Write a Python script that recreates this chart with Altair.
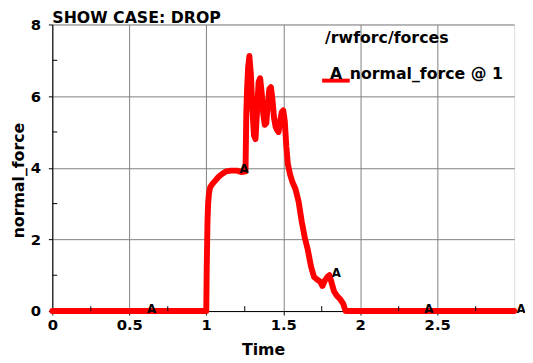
import altair as alt
import pandas as pd

# ---- data ----
time = [0.0, 1.0, 1.003, 1.008, 1.012, 1.018, 1.025, 1.04, 1.06, 1.08, 1.10, 1.13, 1.16,
        1.20, 1.23, 1.255, 1.26, 1.265, 1.272, 1.28, 1.29, 1.30, 1.31, 1.32, 1.33, 1.34,
        1.35, 1.36, 1.37, 1.38, 1.39, 1.40, 1.41, 1.42, 1.43, 1.44, 1.45, 1.46, 1.47,
        1.48, 1.49, 1.50, 1.51, 1.52, 1.53, 1.545, 1.56, 1.58, 1.60, 1.62, 1.64, 1.66,
        1.68, 1.70, 1.72, 1.74, 1.755, 1.77, 1.79, 1.80, 1.81, 1.83, 1.85, 1.87, 1.89,
        1.905, 3.0]
normal_force = [0.0, 0.0, 1.2, 2.5, 3.0, 3.3, 3.45, 3.55, 3.65, 3.75, 3.82, 3.9, 3.92,
                3.92, 3.88, 3.9, 5.5, 6.2, 6.8, 7.12, 6.6, 5.6, 4.9, 4.8, 5.6, 6.4,
                6.5, 6.1, 5.5, 5.2, 5.25, 5.8, 6.2, 6.25, 5.9, 5.4, 5.15, 5.05, 5.0,
                5.3, 5.55, 5.6, 5.3, 4.6, 4.1, 3.8, 3.6, 3.4, 3.05, 2.5, 2.05, 1.7,
                1.25, 0.95, 0.88, 0.82, 0.7, 0.85, 0.97, 1.0, 0.85, 0.55, 0.42, 0.33, 0.2,
                0.0, 0.0]

marker_time = [0.6, 1.2, 1.8, 2.4, 3.0]
marker_force = [0.0, 3.92, 1.0, 0.0, 0.0]

x_major = [0, 0.5, 1, 1.5, 2, 2.5]
x_minor = [0.25, 0.75, 1.25, 1.75, 2.25, 2.75]
y_major = [0, 2, 4, 6, 8]
y_minor = [1, 3, 5, 7]

chart_title = "SHOW CASE: DROP"
legend_title = "/rwforc/forces"
legend_label = "normal_force @ 1"
marker_symbol = "A"

FONT = "DejaVu Sans"
W, H = 469, 291

df = pd.DataFrame({"Time": time, "normal_force": normal_force})
mk = pd.DataFrame({"Time": marker_time, "normal_force": marker_force, "s": marker_symbol})
xmin = pd.DataFrame({"v": x_minor})
ymin = pd.DataFrame({"v": y_minor})

xs = alt.Scale(domain=[0, 3], nice=False, zero=False)
ys = alt.Scale(domain=[0, 8], nice=False)

x_axis = alt.Axis(values=x_major, format="~g", grid=True, gridColor="#808080", gridWidth=1,
                  tickSize=4, tickColor="black", domainColor="black",
                  labelFont=FONT, labelFontSize=15, labelFontWeight="bold", labelColor="black",
                  labelPadding=3, labelFlush=False,
                  title="Time", titleFont=FONT, titleFontSize=16, titleFontWeight="bold",
                  titleColor="black", titleX=214, titleY=44, titleBaseline="alphabetic",
                  titleAnchor="start", titleAlign="center")
y_axis = alt.Axis(values=y_major, format="~g", grid=True, gridColor="#808080", gridWidth=1,
                  tickSize=4, tickColor="black", domainColor="black",
                  labelFont=FONT, labelFontSize=15, labelFontWeight="bold", labelColor="black",
                  labelPadding=8, labelFlush=False,
                  title="normal_force", titleFont=FONT, titleFontSize=16, titleFontWeight="bold",
                  titleColor="black", titleX=-29, titleY=158, titleBaseline="alphabetic",
                  titleAlign="center", titleAngle=270)

line = alt.Chart(df).mark_line(color="#ff0000", strokeWidth=6, strokeJoin="round",
                               strokeCap="round").encode(
    x=alt.X("Time:Q", scale=xs, axis=x_axis),
    y=alt.Y("normal_force:Q", scale=ys, axis=y_axis),
)

markers = alt.Chart(mk).mark_text(font=FONT, fontSize=12, fontWeight="bold", color="black",
                                  dx=7, dy=-2, align="center", baseline="middle").encode(
    x=alt.X("Time:Q", scale=xs),
    y=alt.Y("normal_force:Q", scale=ys),
    text="s:N",
)

xminor = alt.Chart(xmin).mark_rule(color="black", strokeWidth=1).encode(
    x=alt.X("v:Q", scale=xs), y=alt.value(H), y2=alt.value(H - 5))
yminor = alt.Chart(ymin).mark_rule(color="black", strokeWidth=1).encode(
    y=alt.Y("v:Q", scale=ys), x=alt.value(0), x2=alt.value(5))


def label(text, x, y, size=16):
    return alt.Chart(pd.DataFrame({"t": [text]})).mark_text(
        font=FONT, fontSize=size, fontWeight="bold", color="black", align="left",
        baseline="alphabetic").encode(x=alt.value(x), y=alt.value(y), text="t:N")


title_txt = label(chart_title, 0, -2)
leg_title = label(legend_title, 277, 19)
leg_line = alt.Chart(pd.DataFrame({"a": [0]})).mark_rule(
    color="#ff0000", strokeWidth=4).encode(x=alt.value(274), x2=alt.value(302), y=alt.value(57))
leg_sym = label(marker_symbol, 282, 55)
leg_lab = label(legend_label, 302, 55)

chart = alt.layer(line, xminor, yminor, markers, leg_line, leg_title, leg_sym, leg_lab,
                  title_txt).properties(
    width=W, height=H,
    autosize=alt.AutoSizeParams(type="none"),
    padding={"left": 45, "top": 14, "right": 11, "bottom": 50},
).configure_view(stroke="black", strokeWidth=1).configure(background="white")

chart.save("out.html", embed_options={"renderer": "svg", "actions": False})
